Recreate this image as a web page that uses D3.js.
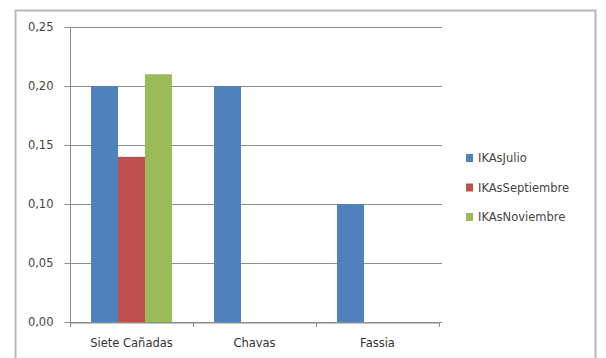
<!DOCTYPE html>
<html>
<head>
<meta charset="utf-8">
<script src="https://cdn.jsdelivr.net/npm/d3@7"></script>
<style>
  html, body { margin: 0; padding: 0; background: #fff; }
  svg { display: block; font-family: "DejaVu Sans", sans-serif; }
</style>
</head>
<body>
<svg id="chart" width="606" height="358"></svg>
<script>
// Sites and IKAs values per sampling month
const categories = ["Siete Cañadas", "Chavas", "Fassia"];
const seriesNames = ["IKAsJulio", "IKAsSeptiembre", "IKAsNoviembre"];
const julio = [0.20, 0.20, 0.10];
const septiembre = [0.14, 0, 0];
const noviembre = [0.21, 0, 0];
const yTicks = [0, 0.05, 0.10, 0.15, 0.20, 0.25];
const seriesColors = ["#4F81BD", "#C0504D", "#9BBB59"];

const seriesValues = [julio, septiembre, noviembre];

const svg = d3.select("#chart");
const plot = { left: 70, right: 439, top: 27, bottom: 322 };

// Outer chart frame
svg.append("rect")
  .attr("x", 15.5).attr("y", 10.5)
  .attr("width", 580).attr("height", 360)
  .attr("fill", "#fff")
  .attr("stroke", "#b8b8b8").attr("stroke-width", 2);

const x = d3.scaleBand()
  .domain(categories)
  .range([plot.left, plot.right])
  .paddingInner(0).paddingOuter(0);

const xInner = d3.scaleBand()
  .domain(seriesNames)
  .range([0, x.bandwidth()])
  .paddingOuter(0.78).paddingInner(0);

const y = d3.scaleLinear()
  .domain([0, 0.25])
  .range([plot.bottom, plot.top]);

const fmt = v => d3.format(".2f")(v).replace(".", ",");

// Horizontal gridlines
svg.append("g")
  .selectAll("line")
  .data(yTicks)
  .join("line")
  .attr("x1", plot.left).attr("x2", plot.right + 3)
  .attr("y1", d => Math.round(y(d)) + 0.5)
  .attr("y2", d => Math.round(y(d)) + 0.5)
  .attr("stroke", "#8c8c8c").attr("stroke-width", 1.2);

// Bars
const groups = svg.append("g")
  .selectAll("g")
  .data(categories)
  .join("g")
  .attr("transform", d => `translate(${x(d)},0)`);

groups.selectAll("rect")
  .data((c, i) => seriesNames.map((s, k) => ({ s, v: seriesValues[k][i], k })).filter(d => d.v > 0))
  .join("rect")
  .attr("x", d => xInner(d.s))
  .attr("width", xInner.bandwidth())
  .attr("y", d => y(d.v))
  .attr("height", d => y(0) - y(d.v))
  .attr("fill", d => seriesColors[d.k]);

// Y axis
const yAxis = svg.append("g")
  .attr("transform", `translate(${plot.left + 0.5},0)`)
  .call(d3.axisLeft(y).tickValues(yTicks).tickFormat(fmt).tickSize(6).tickPadding(11));
yAxis.select(".domain").attr("stroke", "#8c8c8c").attr("d", `M0,${plot.top}V${plot.bottom}`);
yAxis.selectAll(".tick line").attr("stroke", "#8c8c8c");
yAxis.selectAll("text").attr("fill", "#444").attr("font-size", 11.5)
  .attr("font-family", "DejaVu Sans, sans-serif");

// X axis
const xAxis = svg.append("g")
  .attr("transform", `translate(0,${plot.bottom + 0.5})`)
  .call(d3.axisBottom(x).tickSize(0).tickPadding(16));
xAxis.select(".domain").attr("stroke", "#8c8c8c");
xAxis.selectAll("text").attr("fill", "#333").attr("font-size", 11.5)
  .attr("font-family", "DejaVu Sans, sans-serif");

// Category separator ticks
svg.append("g")
  .selectAll("line")
  .data(d3.range(categories.length + 1))
  .join("line")
  .attr("x1", i => Math.round(plot.left + i * x.bandwidth()) + 0.5)
  .attr("x2", i => Math.round(plot.left + i * x.bandwidth()) + 0.5)
  .attr("y1", plot.bottom).attr("y2", plot.bottom + 5)
  .attr("stroke", "#8c8c8c");

// Legend
const legend = svg.append("g").attr("transform", "translate(466,158)");
const item = legend.selectAll("g")
  .data(seriesNames)
  .join("g")
  .attr("transform", (d, i) => `translate(0,${i * 29.5})`);
item.append("rect")
  .attr("x", 0).attr("y", -4).attr("width", 7).attr("height", 8)
  .attr("fill", (d, i) => seriesColors[i]);
item.append("text")
  .attr("x", 12).attr("y", 0).attr("dy", "0.35em")
  .attr("font-size", 11.5).attr("fill", "#444")
  .text(d => d);
</script>
</body>
</html>
